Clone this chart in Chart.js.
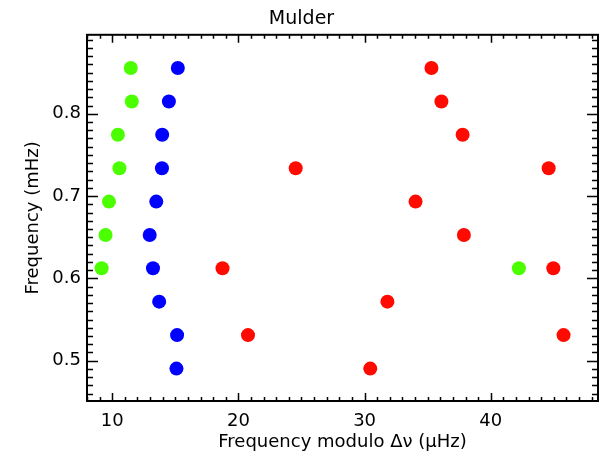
<!DOCTYPE html>
<html>
<head>
<meta charset="utf-8">
<script src="https://cdn.jsdelivr.net/npm/chart.js@4/dist/chart.umd.min.js"></script>
<style>
  html, body { margin: 0; padding: 0; background: #fff; }
  #wrap { width: 605px; height: 458px; }
</style>
</head>
<body>
<div id="wrap"><canvas id="grafico"></canvas></div>
<script>
// values
const greenX = [11.47, 11.55, 10.45, 10.57, 9.74, 9.47, 9.16, 42.23]
const greenY = [0.8556, 0.8150, 0.7745, 0.7339, 0.6933, 0.6528, 0.6123, 0.6123]
const blueX = [15.20, 14.49, 13.96, 13.94, 13.49, 12.97, 13.23, 13.72, 15.14, 15.09]
const blueY = [0.8556, 0.8150, 0.7745, 0.7339, 0.6933, 0.6528, 0.6123, 0.5717, 0.5311, 0.4904]
const redX = [35.30, 36.09, 37.77, 24.54, 44.59, 34.04, 37.87, 18.74, 44.96, 31.81, 20.76, 45.77, 30.45]
const redY = [0.8556, 0.8150, 0.7745, 0.7339, 0.7339, 0.6933, 0.6528, 0.6123, 0.6123, 0.5717, 0.5311, 0.5311, 0.4904]
const xTicks = [10, 20, 30, 40]
const yTicks = [0.5, 0.6, 0.7, 0.8]

const pts = (xs, ys) => xs.map((x, i) => ({x: x, y: ys[i]}))
const font = 'DejaVu Sans'

// IDL style box with inward ticks on all four sides
const boxTicks = {
  id: 'boxTicks',
  afterDraw(chart) {
    const ctx = chart.ctx
    const a = chart.chartArea
    const sx = chart.scales.x, sy = chart.scales.y
    ctx.save()
    ctx.strokeStyle = '#000'
    ctx.lineWidth = 1.5
    ctx.beginPath()
    for (let v = 8; v <= 48.5; v++) {
      const px = Math.round(sx.getPixelForValue(v)) + 0.5
      const len = v % 10 == 0 ? 8 : 4
      ctx.moveTo(px, a.bottom); ctx.lineTo(px, a.bottom - len)
      ctx.moveTo(px, a.top); ctx.lineTo(px, a.top + len)
    }
    for (let k = 46; k <= 89; k++) {
      const py = Math.round(sy.getPixelForValue(k / 100)) + 0.5
      const len = k % 10 == 0 ? 11 : 6
      ctx.moveTo(a.left, py); ctx.lineTo(a.left + len, py)
      ctx.moveTo(a.right, py); ctx.lineTo(a.right - len, py)
    }
    ctx.stroke()
    ctx.lineWidth = 2
    ctx.strokeRect(a.left, a.top, a.right - a.left, a.bottom - a.top)
    ctx.restore()
  }
}

const graph = new Chart(document.getElementById('grafico').getContext('2d'), {
  type: 'scatter',
  data: {
    datasets: [{
      label: 'red',
      data: pts(redX, redY),
      backgroundColor: '#ff0a00',
      borderWidth: 0,
      pointRadius: 7
    }, {
      label: 'blue',
      data: pts(blueX, blueY),
      backgroundColor: '#0000ff',
      borderWidth: 0,
      pointRadius: 7
    }, {
      label: 'green',
      data: pts(greenX, greenY),
      backgroundColor: '#4cff00',
      borderWidth: 0,
      pointRadius: 7
    }]
  },
  options: {
    responsive: true,
    maintainAspectRatio: false,
    animation: false,
    layout: { padding: { top: 0, right: 2, bottom: 0, left: 0 } },
    plugins: {
      legend: { display: false },
      tooltip: { enabled: false },
      title: {
        display: true,
        text: 'Mulder',
        color: '#000',
        font: { family: font, size: 19, weight: 'normal' },
        padding: { top: 8, bottom: 4 }
      }
    },
    scales: {
      x: {
        type: 'linear',
        min: 8,
        max: 48.5,
        grid: { display: false, drawTicks: false },
        border: { display: false },
        afterBuildTicks: s => { s.ticks = xTicks.map(v => ({value: v})) },
        afterFit: s => { s.height = 57 },
        ticks: {
          color: '#000',
          padding: 10,
          maxRotation: 0,
          font: { family: font, size: 18 }
        },
        title: {
          display: true,
          text: 'Frequency modulo Δν (μHz)',
          color: '#000',
          padding: { top: 0, bottom: 5 },
          font: { family: font, size: 18 }
        }
      },
      y: {
        type: 'linear',
        min: 0.451,
        max: 0.896,
        grid: { display: false, drawTicks: false },
        border: { display: false },
        afterBuildTicks: s => { s.ticks = yTicks.map(v => ({value: v})) },
        afterFit: s => { s.width = 87 },
        ticks: {
          color: '#000',
          padding: 6,
          font: { family: font, size: 18 },
          callback: v => v.toFixed(1)
        },
        title: {
          display: true,
          text: 'Frequency (mHz)',
          color: '#000',
          padding: { top: 23, bottom: 0 },
          font: { family: font, size: 18 }
        }
      }
    }
  },
  plugins: [boxTicks]
})
</script>
</body>
</html>
